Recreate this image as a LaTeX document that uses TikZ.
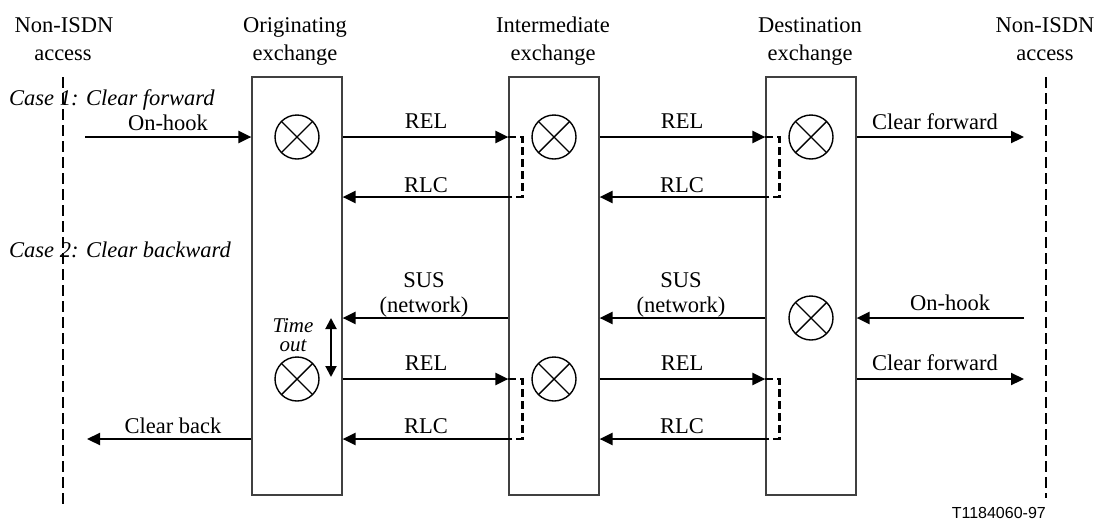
\documentclass[tikz,border=0pt]{standalone}
\usepackage{fontspec}
\setmainfont{Liberation Serif}
\newfontfamily\figsans{Liberation Sans}
\usetikzlibrary{arrows.meta}
\begin{document}
\begin{tikzpicture}[x=1pt,y=-1pt,
 exbox/.style={draw=black!75, line width=1.2pt, minimum width=90pt, minimum height=418pt, inner sep=0pt},
 xcirc/.style={circle, draw, line width=1.4pt, minimum size=44pt, inner sep=0pt,
   path picture={\draw[line width=1.4pt] (path picture bounding box.north west) -- (path picture bounding box.south east)
     (path picture bounding box.north east) -- (path picture bounding box.south west);}},
 msg/.style={line width=2.2pt, -{Triangle[length=13pt,width=12pt]}},
 accessline/.style={line width=2.5pt, dash pattern=on 11pt off 5pt},
 bracket/.style={line width=2.5pt, dash pattern=on 8pt off 4pt},
 lbl/.style={font=\fontsize{22.5}{26}\selectfont, inner sep=0pt, anchor=base},
 ilbl/.style={lbl, font=\fontsize{22.5}{26}\selectfont\itshape},
 tlbl/.style={lbl, font=\fontsize{21}{22}\selectfont\itshape},
]
\useasboundingbox (0,0) rectangle (1098,520);

% exchanges
\node[exbox] (O) at (297,286) {};
\node[exbox] (I) at (554,286) {};
\node[exbox] (D) at (811,286) {};

% access lines
\coordinate (LT) at (63,77);
\coordinate (LB) at (63,505);
\coordinate (RT) at (1046,77);
\coordinate (RB) at (1046,498);
\draw[accessline] (LT) -- (LB);
\draw[accessline] (RT) -- (RB);

% levels
\coordinate (a1) at (0,137);
\coordinate (a2) at (0,197);
\coordinate (a3) at (0,318);
\coordinate (a4) at (0,379);
\coordinate (a5) at (0,439);

% headers
\node[lbl] (h1) at (64,32) {Non-ISDN};
\node[lbl] (h1b) at (63,60) {access};
\node[lbl] (h2) at (295,32) {Originating};
\node[lbl] (h2b) at (295,60) {exchange};
\node[lbl] (h3) at (553,32) {Intermediate};
\node[lbl] (h3b) at (553,60) {exchange};
\node[lbl] (h4) at (810,32) {Destination};
\node[lbl] (h4b) at (810,60) {exchange};
\node[lbl] (h5) at (1045,32) {Non-ISDN};
\node[lbl] (h5b) at (1045,60) {access};

% case labels
\node[ilbl, anchor=base west] (c1) at (9,105) {Case 1: Clear forward};
\node[ilbl, anchor=base west] (c2) at (9,257) {Case 2: Clear backward};

% circles
\node[xcirc] (x1) at (O.center |- a1) {};
\node[xcirc] (x2) at (I.center |- a1) {};
\node[xcirc] (x3) at (D.center |- a1) {};
\node[xcirc] (x4) at (D.center |- a3) {};
\node[xcirc] (x5) at (O.center |- a4) {};
\node[xcirc] (x6) at (I.center |- a4) {};

% case 1 messages
\coordinate (L1) at (85,137);
\coordinate (R1) at (1024,137);
\draw[msg] (L1) -- (O.west |- a1);
\draw[msg] (O.east |- a1) -- (I.west |- a1);
\draw[msg] (I.east |- a1) -- (D.west |- a1);
\draw[msg] (D.east |- a1) -- (R1);
\draw[msg] (I.west |- a2) -- (O.east |- a2);
\draw[msg] (D.west |- a2) -- (I.east |- a2);

\path (I.west |- a1) ++(14,0) coordinate (bI1);
\path (D.west |- a1) ++(14,0) coordinate (bD1);
\draw[bracket] (I.west |- a1) -- (bI1) |- (I.west |- a2);
\draw[bracket] (D.west |- a1) -- (bD1) |- (D.west |- a2);

\node[lbl] (t1) at (168,130) {On-hook};
\node[lbl] (t2) at (426,128) {REL};
\node[lbl] (t3) at (682,128) {REL};
\node[lbl] (t4) at (935,129) {Clear forward};
\node[lbl] (t5) at (426,192) {RLC};
\node[lbl] (t6) at (682,192) {RLC};

% case 2 messages
\coordinate (R3) at (1024,318);
\coordinate (R4) at (1024,379);
\coordinate (L5) at (87,439);
\draw[msg] (R3) -- (D.east |- a3);
\draw[msg] (D.west |- a3) -- (I.east |- a3);
\draw[msg] (I.west |- a3) -- (O.east |- a3);
\draw[msg] (O.east |- a4) -- (I.west |- a4);
\draw[msg] (I.east |- a4) -- (D.west |- a4);
\draw[msg] (D.east |- a4) -- (R4);
\draw[msg] (I.west |- a5) -- (O.east |- a5);
\draw[msg] (D.west |- a5) -- (I.east |- a5);
\draw[msg] (O.west |- a5) -- (L5);

\path (I.west |- a4) ++(14,0) coordinate (bI2);
\path (D.west |- a4) ++(14,0) coordinate (bD2);
\draw[bracket] (I.west |- a4) -- (bI2) |- (I.west |- a5);
\draw[bracket] (D.west |- a4) -- (bD2) |- (D.west |- a5);

% time out
\coordinate (tt) at (331,318);
\coordinate (tb) at (331,377);
\draw[line width=2pt, {Triangle[length=11pt,width=11pt]}-{Triangle[length=11pt,width=11pt]}] (tt) -- (tb);
\node[tlbl] (to1) at (293,332) {Time};
\node[tlbl] (to2) at (293,351) {out};

\node[lbl] (s1) at (424,287) {SUS};
\node[lbl] (s1b) at (424,312) {(network)};
\node[lbl] (s2) at (681,287) {SUS};
\node[lbl] (s2b) at (681,312) {(network)};
\node[lbl] (s3) at (950,310) {On-hook};
\node[lbl] (s4) at (426,370) {REL};
\node[lbl] (s5) at (682,370) {REL};
\node[lbl] (s6) at (935,370) {Clear forward};
\node[lbl] (s7) at (426,433) {RLC};
\node[lbl] (s8) at (682,433) {RLC};
\node[lbl] (s9) at (173,433) {Clear back};

\node[inner sep=0pt, anchor=base east, font=\figsans\fontsize{16}{19}\selectfont] (fig) at (1046,518) {T1184060-97};
\end{tikzpicture}
\end{document}
